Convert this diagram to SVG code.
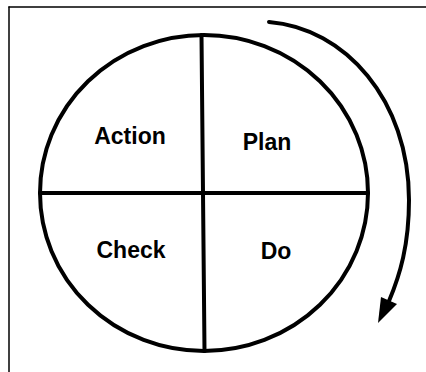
<svg xmlns="http://www.w3.org/2000/svg" width="426" height="372" viewBox="0 0 426 372">
<style>
.lbl{font-family:"Liberation Sans",Arial,sans-serif;font-weight:bold;font-size:23px;fill:#000;text-anchor:middle}
.ln{stroke:#000;fill:none;stroke-linecap:round}
</style>
<rect width="426" height="372" fill="#fff"/>
<g id="frame">
<line class="ln" x1="9" y1="7" x2="426" y2="7" stroke-width="1.5"/>
<line class="ln" x1="9" y1="7" x2="9" y2="372" stroke-width="1.5"/>
</g>
<g id="circle">
<ellipse class="ln" cx="204" cy="193" rx="164" ry="158" stroke-width="4"/>
</g>
<g id="connectors">
<line class="ln" x1="40" y1="193" x2="368" y2="193" stroke-width="4"/>
<line class="ln" x1="201.5" y1="35" x2="204.5" y2="351" stroke-width="4"/>
<path class="ln" d="M269,22 C345,28 409,100 409,200 C409,245 400,275 389,301" stroke-width="4"/>
<polygon points="378,323 381,297 397,304" fill="#000"/>
</g>
<g id="action"><text class="lbl" x="130" y="144">Action</text></g>
<g id="plan"><text class="lbl" x="267" y="150">Plan</text></g>
<g id="check"><text class="lbl" x="131" y="258">Check</text></g>
<g id="do"><text class="lbl" x="276" y="259">Do</text></g>
</svg>
